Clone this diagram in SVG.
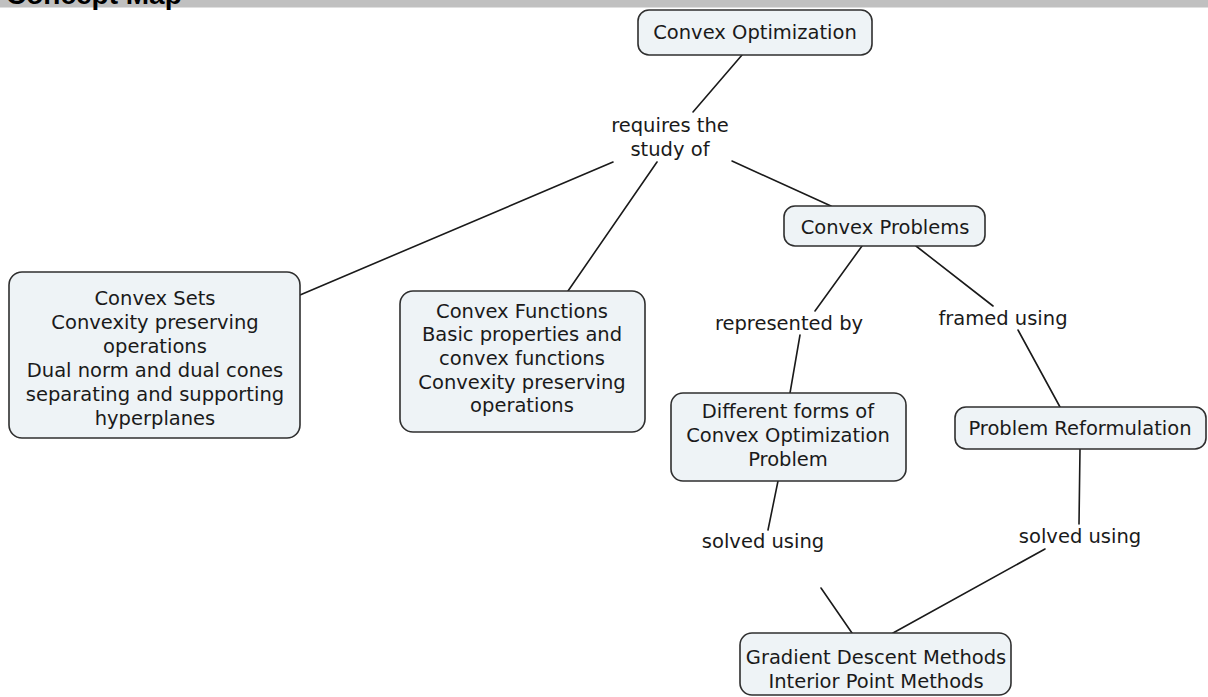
<svg xmlns="http://www.w3.org/2000/svg" width="1208" height="697" viewBox="0 0 1208 697">
  <style>
    .node rect { fill: #eef3f6; stroke: #2f2f2f; stroke-width: 1.6; }
    .node text, .label text { font-family: "DejaVu Sans", Verdana, sans-serif; font-size: 19.5px; fill: #1a1a1a; text-anchor: middle; }
    .links line { stroke: #1a1a1a; stroke-width: 1.6; stroke-linecap: round; }
    .title { font-family: "Liberation Sans", Arial, sans-serif; font-weight: bold; font-size: 28px; fill: #000; }
  </style>

  <rect width="1208" height="697" fill="#ffffff"/>

  <!-- header strip -->
  <g id="header">
    <rect x="0" y="0" width="1208" height="7.5" fill="#c0c0c0"/>
    <text class="title" x="6" y="4">Concept Map</text>
  </g>

  <!-- connectors -->
  <g id="connectors" class="links">
    <line x1="742" y1="55" x2="693" y2="112"/>
    <line x1="613" y1="162" x2="300" y2="295"/>
    <line x1="657" y1="162" x2="568" y2="291"/>
    <line x1="732" y1="161" x2="831" y2="206"/>
    <line x1="862" y1="246" x2="815" y2="311"/>
    <line x1="800" y1="335" x2="790" y2="393"/>
    <line x1="916" y1="246" x2="993" y2="306"/>
    <line x1="1018" y1="330" x2="1060" y2="407"/>
    <line x1="778" y1="481" x2="768" y2="530"/>
    <line x1="821" y1="588" x2="852" y2="633"/>
    <line x1="1080" y1="449" x2="1079" y2="524"/>
    <line x1="1045" y1="549" x2="893" y2="633"/>
  </g>

  <!-- linking phrases -->
  <g id="label-requires" class="label">
    <text x="670" y="132">requires the</text>
    <text x="670" y="156">study of</text>
  </g>
  <g id="label-represented" class="label"><text x="789" y="330">represented by</text></g>
  <g id="label-framed" class="label"><text x="1003" y="325">framed using</text></g>
  <g id="label-solved-left" class="label"><text x="763" y="548">solved using</text></g>
  <g id="label-solved-right" class="label"><text x="1080" y="543">solved using</text></g>

  <!-- concepts -->
  <g id="convex-optimization" class="node">
    <rect x="638" y="10" width="234" height="45" rx="11"/>
    <text x="755" y="39">Convex Optimization</text>
  </g>

  <g id="convex-problems" class="node">
    <rect x="784" y="206" width="201" height="40" rx="11"/>
    <text x="885" y="234">Convex Problems</text>
  </g>

  <g id="convex-sets" class="node">
    <rect x="9" y="272" width="291" height="166" rx="13"/>
    <text x="155" y="305">Convex Sets</text>
    <text x="155" y="329">Convexity preserving</text>
    <text x="155" y="353">operations</text>
    <text x="155" y="377">Dual norm and dual cones</text>
    <text x="155" y="401">separating and supporting</text>
    <text x="155" y="425">hyperplanes</text>
  </g>

  <g id="convex-functions" class="node">
    <rect x="400" y="291" width="245" height="141" rx="13"/>
    <text x="522" y="318">Convex Functions</text>
    <text x="522" y="341">Basic properties and</text>
    <text x="522" y="365">convex functions</text>
    <text x="522" y="389">Convexity preserving</text>
    <text x="522" y="412">operations</text>
  </g>

  <g id="different-forms" class="node">
    <rect x="671" y="393" width="235" height="88" rx="12"/>
    <text x="788" y="418">Different forms of</text>
    <text x="788" y="442">Convex Optimization</text>
    <text x="788" y="466">Problem</text>
  </g>

  <g id="problem-reformulation" class="node">
    <rect x="955" y="407" width="251" height="42" rx="11"/>
    <text x="1080" y="435">Problem Reformulation</text>
  </g>

  <g id="solution-methods" class="node">
    <rect x="740" y="633" width="271" height="62" rx="12"/>
    <text x="876" y="664">Gradient Descent Methods</text>
    <text x="876" y="688">Interior Point Methods</text>
  </g>
</svg>
